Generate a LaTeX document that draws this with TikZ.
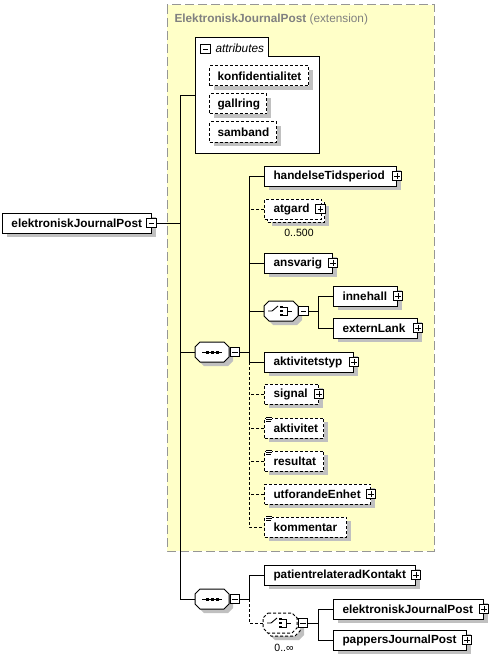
\documentclass[tikz,border=0pt]{standalone}
\usepackage{fontspec}
\setmainfont{Liberation Sans}
\usetikzlibrary{shadows}
\definecolor{extfill}{RGB}{255,255,200}
\definecolor{extline}{RGB}{150,150,150}
\definecolor{exttext}{RGB}{128,128,128}
\definecolor{shd}{RGB}{192,192,192}
\newcommand\elfont{\fontsize{11.8}{14}\selectfont}
\newcommand\octshadow[2]{%
 \fill[shd] (#1-8,#2-6) -- (#1+16,#2-6) -- (#1+21,#2-1) -- (#1+21,#2+9) -- (#1+16,#2+14) -- (#1-8,#2+14) -- (#1-13,#2+9) -- (#1-13,#2-1) -- cycle;}
\newcommand\octdraw[3]{%
 \draw[fill=white,#3] (#1-12,#2-10) -- (#1+12,#2-10) -- (#1+17,#2-5) -- (#1+17,#2+5) -- (#1+12,#2+10) -- (#1-12,#2+10) -- (#1-17,#2+5) -- (#1-17,#2-5) -- cycle;}
\newcommand\seqicon[2]{%
 \draw[line width=1pt] (#1-10,#2) -- (#1+10,#2);
 \foreach \d in {-5,0,5} \fill (#1+\d-1.5,#2-1.5) rectangle (#1+\d+1.5,#2+1.5);}
\newcommand\choiceicon[2]{%
 \draw[line width=0.9pt] (#1-13,#2) -- (#1-9,#2) -- (#1-3,#2-5);
 \foreach \d in {-4,0,4} \fill (#1-1,#2+\d-1.3) rectangle (#1+1.8,#2+\d+1.3);
 \draw[line width=0.9pt] (#1+1.8,#2-4) -- (#1+6,#2-4) -- (#1+6,#2+4) -- (#1+1.8,#2+4) (#1+6,#2) -- (#1+11,#2);}
\newcommand\simpleicon[2]{%
 \fill[white] (#1+1.5,#2-1.5) rectangle (#1+8,#2+4.5);
 \draw[line width=0.9pt] (#1+2,#2-0.5) -- (#1+8,#2-0.5) (#1+2,#2+1.7) -- (#1+8,#2+1.7) (#1+2,#2+3.9) -- (#1+7,#2+3.9);}
\begin{document}
\begin{tikzpicture}[x=1pt,y=-1pt,line width=1pt,
 opt/.style={dash pattern=on 3pt off 2pt},
 elns/.style={draw, fill=white, anchor=west, inner xsep=9pt, inner ysep=0pt,
   minimum height=20pt, align=left, font=\elfont\bfseries},
 el/.style={elns, general shadow={fill=shd, draw=none, shadow xshift=4pt, shadow yshift=-4pt}},
 attr/.style={el, opt, inner xsep=8pt},
 box0/.style={draw=none, minimum width=34pt, minimum height=20pt, inner sep=0pt},
 pmbase/.style={draw, fill=white, minimum size=9.5pt, inner sep=0pt, line width=0.8pt},
 minus/.style={pmbase, path picture={\draw[line width=0.8pt] ([xshift=2pt]path picture bounding box.west) -- ([xshift=-2pt]path picture bounding box.east);}},
 plus/.style={pmbase, path picture={\draw[line width=0.8pt] ([xshift=2pt]path picture bounding box.west) -- ([xshift=-2pt]path picture bounding box.east) ([yshift=-2pt]path picture bounding box.north) -- ([yshift=2pt]path picture bounding box.south);}},
 lbl/.style={inner sep=0pt, font=\fontsize{10.5}{12}\selectfont}
]
\useasboundingbox (0,0) rectangle (495,658);
% extension area
\draw[extline, fill=extfill, dash pattern=on 9pt off 4pt] (167,5) rectangle (434,551);
\node[anchor=west, inner sep=0pt, text=exttext, font=\elfont] (title) at (174,19) {\textbf{ElektroniskJournalPost} (extension)};
% attributes
\draw[fill=white] (195,38) -- (268,38) -- (268,57) -- (319,57) -- (319,153) -- (195,153) -- cycle;
\coordinate (attrW) at (195,96);
\node[minus] (attrP) at (205.5,49) {};
\node[anchor=west, inner sep=0pt, font=\elfont\itshape] (attrT) at (215,48) {attributes};
\node[attr, text width=83pt] (konf) at (209,76) {konfidentialitet};
\node[attr, text width=41pt] (gall) at (209,104) {gallring};
\node[attr, text width=51pt] (samb) at (209,132) {samband};
% root
\node[el, text width=131pt] (main) at (2,223) {elektroniskJournalPost};
\node[minus] (mainP) at (151.5,223) {};
% sequence 1
\octshadow{212}{352}
\octdraw{212}{352}{}
\seqicon{212}{352}
\node[box0] (seq1) at (212,352) {};
\node[minus] (seq1P) at (235,352) {};
% children of sequence 1
\node[el, text width=114pt] (hts) at (264,176) {handelseTidsperiod};
\node[plus] (htsP) at (hts.east) {};
\node[el, opt, text width=39pt] (atgB) at (267,212) {};
\node[elns, opt, text width=39pt] (atg) at (264,209) {atgard};
\node[plus] (atgP) at ([xshift=-1.5pt]atg.east) {};
\node[lbl] (atgL) at (299,233) {0..500};
\node[el, text width=50pt] (ansv) at (264,263) {ansvarig};
\node[plus] (ansvP) at (ansv.east) {};
% choice 1
\octshadow{281}{311}
\octdraw{281}{311}{}
\choiceicon{281}{311}
\node[box0] (ch1) at (281,311) {};
\node[minus] (ch1P) at (303.5,311) {};
\node[el, text width=46pt] (inne) at (333,296) {innehall};
\node[plus] (inneP) at (inne.east) {};
\node[el, text width=66pt] (ext) at (333,328) {externLank};
\node[plus] (extP) at (ext.east) {};
\node[el, text width=71pt] (akt) at (264,362) {aktivitetstyp};
\node[plus] (aktP) at (akt.east) {};
\node[el, opt, text width=36pt] (sig) at (264,394) {signal};
\node[plus] (sigP) at (sig.east) {};
\node[el, opt, text width=41pt] (aktv) at (264,428) {aktivitet};
\simpleicon{264}{418}
\node[el, opt, text width=41pt] (res) at (264,461) {resultat};
\simpleicon{264}{451}
\node[el, opt, text width=88pt] (utf) at (264,494) {utforandeEnhet};
\node[plus] (utfP) at (utf.east) {};
\node[el, opt, text width=64pt] (komm) at (264,527) {kommentar};
\simpleicon{264}{517}
% sequence 2
\octshadow{212}{599}
\octdraw{212}{599}{}
\seqicon{212}{599}
\node[box0] (seq2) at (212,599) {};
\node[minus] (seq2P) at (235,599) {};
\node[el, text width=133pt] (prk) at (264,575) {patientrelateradKontakt};
\node[plus] (prkP) at (prk.east) {};
% choice 2 (repeated)
\octshadow{283}{626}
\octdraw{283}{626}{opt}
\octdraw{280}{623}{opt}
\choiceicon{280}{623}
\node[box0] (ch2) at (280,623) {};
\node[minus] (ch2P) at (303,623) {};
\node[lbl] (ch2L) at (284,648) {0..∞};
\node[el, text width=132pt] (ejp2) at (333,609) {elektroniskJournalPost};
\node[plus] (ejp2P) at (ejp2.east) {};
\node[el, text width=115pt] (pjp) at (333,640) {pappersJournalPost};
\node[plus] (pjpP) at (pjp.east) {};
% buses
\coordinate (b1) at (180,0);
\coordinate (b2) at (249,0);
\coordinate (b3) at (318,0);
\draw (mainP.east) -- (mainP.east -| b1);
\draw (attrW) -- (attrW -| b1) |- (seq2.west);
\draw (seq1.west) -- (seq1.west -| b1);
\draw (seq1P.east) -- (seq1P.east -| b2);
\draw (hts.west) -- (hts.west -| b2) |- (akt.west);
\draw (ansv.west) -- (ansv.west -| b2);
\draw (ch1.west) -- (ch1.west -| b2);
\draw[opt] (atg.west) -- (atg.west -| b2);
\draw[opt] (akt.west -| b2) |- (komm.west);
\draw[opt] (sig.west) -- (sig.west -| b2);
\draw[opt] (aktv.west) -- (aktv.west -| b2);
\draw[opt] (res.west) -- (res.west -| b2);
\draw[opt] (utf.west) -- (utf.west -| b2);
\draw (ch1P.east) -- (ch1P.east -| b3);
\draw (inne.west) -- (inne.west -| b3) |- (ext.west);
\draw (seq2P.east) -- (seq2P.east -| b2);
\draw (prk.west) -- (prk.west -| b2) -- (seq2P.east -| b2);
\draw[opt] (seq2P.east -| b2) |- (ch2.west);
\draw (ch2P.east) -- (ch2P.east -| b3);
\draw (ejp2.west) -- (ejp2.west -| b3) |- (pjp.west);
\end{tikzpicture}
\end{document}
